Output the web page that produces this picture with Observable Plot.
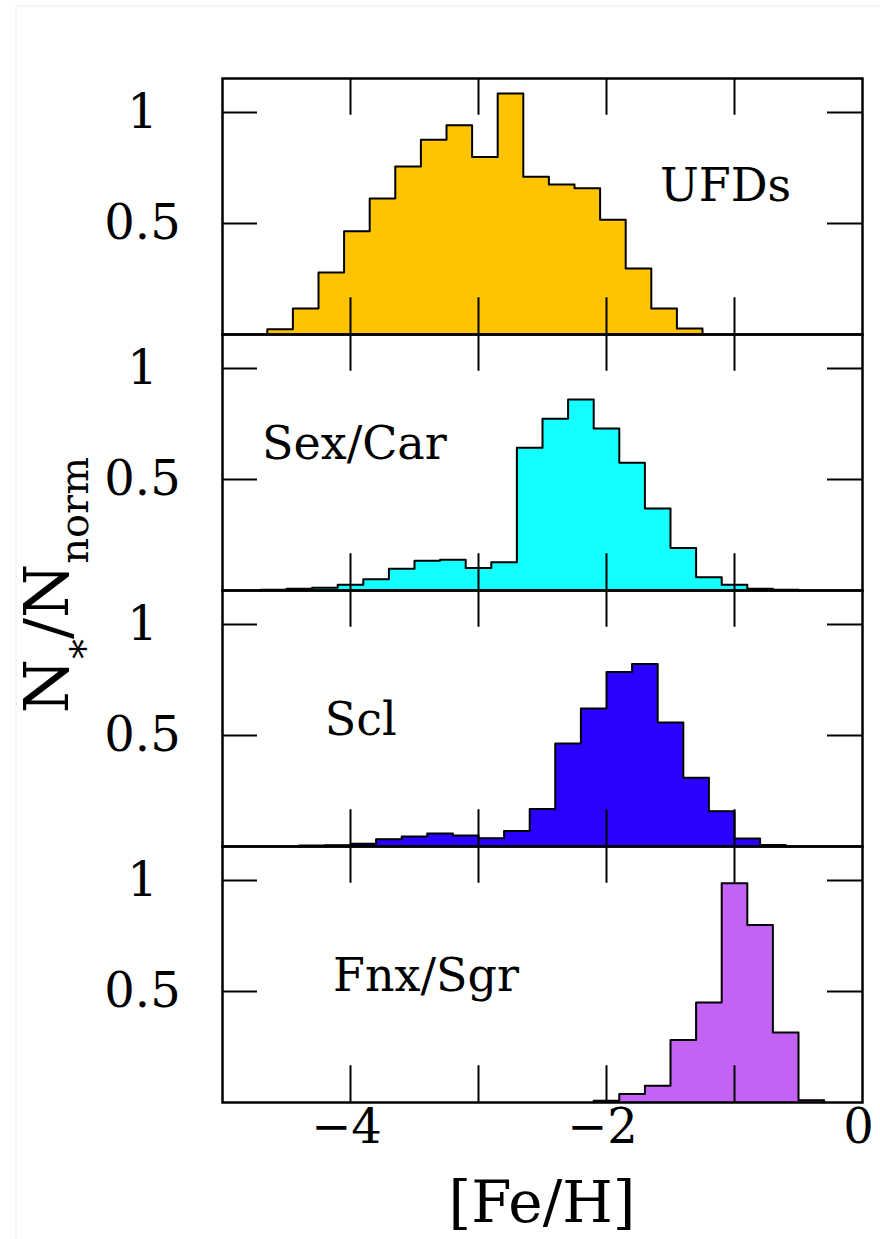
<!DOCTYPE html>
<html>
<head>
<meta charset="utf-8">
<script src="https://cdn.jsdelivr.net/npm/d3@7"></script>
<script src="https://cdn.jsdelivr.net/npm/@observablehq/plot@0.6"></script>
<style>
  html, body { margin: 0; padding: 0; background: #fff; }
  #chart svg { display: block; }
</style>
</head>
<body>
<div id="chart"></div>
<script>
// ---- data ----
const panels = ["UFDs", "Sex/Car", "Scl", "Fnx/Sgr"];
const colors = ["#FFC300", "#14FFFF", "#2B00FF", "#C462F5"];
const binWidth = 0.2;

// left bin edges ([Fe/H]) and normalised counts
const ufdFeH = [-4.65, -4.45, -4.25, -4.05, -3.85, -3.65, -3.45, -3.25, -3.05, -2.85, -2.65, -2.45, -2.25, -2.05, -1.85, -1.65, -1.45];
const ufdN   = [0.024, 0.117, 0.279, 0.465, 0.613, 0.757, 0.877, 0.943, 0.799, 1.086, 0.710, 0.676, 0.659, 0.517, 0.297, 0.117, 0.027];

const sexCarFeH = [-4.7, -4.5, -4.3, -4.1, -3.9, -3.7, -3.5, -3.3, -3.1, -2.9, -2.7, -2.5, -2.3, -2.1, -1.9, -1.7, -1.5, -1.3, -1.1, -0.9, -0.7];
const sexCarN   = [0.003, 0.008, 0.012, 0.026, 0.051, 0.098, 0.134, 0.139, 0.101, 0.127, 0.643, 0.773, 0.860, 0.730, 0.575, 0.369, 0.191, 0.060, 0.026, 0.008, 0.003];

const sclFeH = [-4.4, -4.2, -4.0, -3.8, -3.6, -3.4, -3.2, -3.0, -2.8, -2.6, -2.4, -2.2, -2.0, -1.8, -1.6, -1.4, -1.2, -1.0, -0.8];
const sclN   = [0.005, 0.006, 0.012, 0.033, 0.045, 0.058, 0.049, 0.037, 0.070, 0.169, 0.464, 0.621, 0.786, 0.822, 0.558, 0.310, 0.159, 0.036, 0.007];

const fnxSgrFeH = [-2.1, -1.9, -1.7, -1.5, -1.3, -1.1, -0.9, -0.7, -0.5];
const fnxSgrN   = [0.008, 0.038, 0.075, 0.282, 0.450, 0.988, 0.800, 0.315, 0.010];

const yTicks = [0.5, 1];
const yTickLabels = ["0.5", "1"];
const xTicks = [-4, -3, -2, -1];
const xLabelValues = [-4, -2, 0];
const xLabelTexts = ["\u22124", "\u22122", "0"];

// ---- layout (not data) ----
const W = 880, H = 1239;
const mL = 222, mR = 18, mT = 77, mB = 137;
const panelH = (H - mT - mB) / panels.length;
const plotW = W - mL - mR;
const tickLenX = 37, tickLenY = 35;
const labelAt = {
  "UFDs":    {x: -1.07, y: 0.668},
  "Sex/Car": {x: -3.97, y: 0.660},
  "Scl":     {x: -3.92, y: 0.568},
  "Fnx/Sgr": {x: -3.41, y: 0.570}
};

// ---- tables built from the arrays ----
const series = [
  [panels[0], ufdFeH, ufdN],
  [panels[1], sexCarFeH, sexCarN],
  [panels[2], sclFeH, sclN],
  [panels[3], fnxSgrFeH, fnxSgrN]
];
const outline = [];
for (const [panel, feh, n] of series) {
  outline.push({panel, x: feh[0], y: 0});
  feh.forEach((e, i) => outline.push({panel, x: e, y: n[i]}));
  outline.push({panel, x: feh[feh.length - 1] + binWidth, y: 0});
}
const panelLabels = panels.map(p => ({panel: p, x: labelAt[p].x, y: labelAt[p].y}));
const xLabels = xLabelValues.map((v, i) => ({panel: panels[panels.length - 1], x: v, text: xLabelTexts[i]}));

const font = "DejaVu Serif";

const chart = Plot.plot({
  width: W, height: H,
  marginLeft: mL, marginRight: mR, marginTop: mT, marginBottom: mB,
  x: {domain: [-5, 0], axis: null},
  y: {domain: [0, 1.153], axis: null},
  fy: {domain: panels, axis: null, padding: 0},
  color: {domain: panels, range: colors},
  style: {fontFamily: font, background: "#fff", overflow: "visible"},
  marks: [
    Plot.areaY(outline, {x: "x", y: "y", fy: "panel", fill: "panel", curve: "step-after"}),
    Plot.line(outline, {x: "x", y: "y", fy: "panel", z: "panel", curve: "step-after", stroke: "#000", strokeWidth: 2}),
    // inward ticks
    Plot.tickX(xTicks, {x: d => d, insetTop: panelH - tickLenX, stroke: "#000", strokeWidth: 2}),
    Plot.tickX(xTicks, {x: d => d, insetBottom: panelH - tickLenX, stroke: "#000", strokeWidth: 2}),
    Plot.tickY(yTicks, {y: d => d, insetRight: plotW - tickLenY, stroke: "#000", strokeWidth: 2}),
    Plot.tickY(yTicks, {y: d => d, insetLeft: plotW - tickLenY, stroke: "#000", strokeWidth: 2}),
    Plot.frame({stroke: "#000", strokeWidth: 2.5}),
    // tick labels
    Plot.text(yTicks, {y: d => d, text: (d, i) => yTickLabels[i], frameAnchor: "left", dx: -80, textAnchor: "middle", fontSize: 48, fill: "#000"}),
    Plot.text(xLabels, {x: "x", fy: "panel", text: "text", frameAnchor: "bottom", dy: 40, dx: -4, textAnchor: "middle", fontSize: 48, fill: "#000"}),
    // panel labels
    Plot.text(panelLabels, {x: "x", y: "y", fy: "panel", text: "panel", fontSize: 46, fill: "#000"})
  ]
});

document.getElementById("chart").appendChild(chart);

// axis titles
const svg = d3.select(chart);
svg.append("line").attr("x1", 16).attr("y1", 6).attr("x2", W).attr("y2", 6).attr("stroke", "#ececec");
svg.append("line").attr("x1", 16).attr("y1", 6).attr("x2", 16).attr("y2", H).attr("stroke", "#ececec");

svg.append("text")
  .attr("x", mL + plotW / 2).attr("y", 1222)
  .attr("text-anchor", "middle")
  .attr("font-family", font).attr("font-size", 58).attr("fill", "#000")
  .text("[Fe/H]");

const yt = svg.append("text")
  .attr("transform", `translate(68,585) rotate(-90)`)
  .attr("text-anchor", "middle")
  .attr("font-family", font).attr("font-size", 62).attr("fill", "#000");
yt.append("tspan").text("N");
yt.append("tspan").attr("font-size", 40).attr("dy", 30).text("*");
yt.append("tspan").attr("dy", -30).text("/N");
yt.append("tspan").attr("font-size", 40).attr("dy", 20).text("norm");
</script>
</body>
</html>
